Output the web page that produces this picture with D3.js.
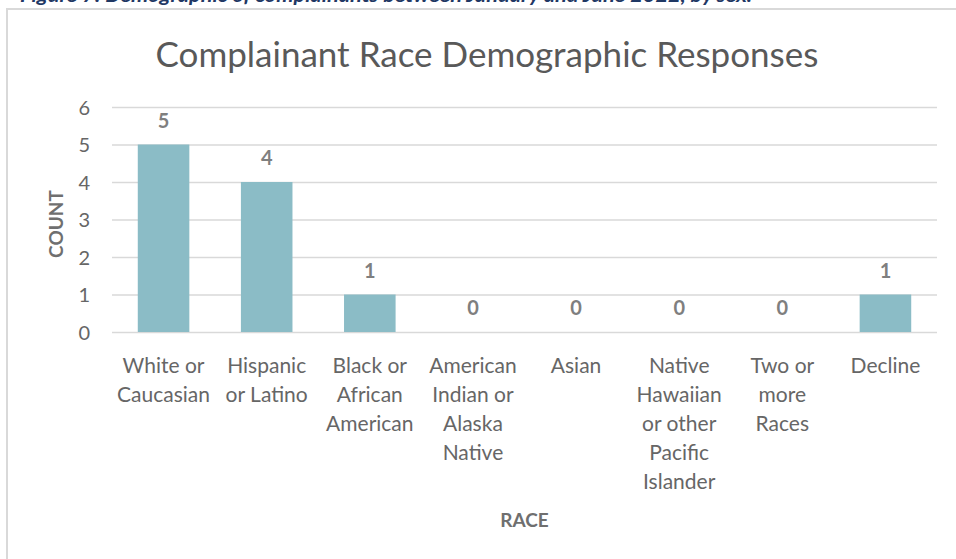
<!DOCTYPE html>
<html>
<head>
<meta charset="utf-8">
<script src="https://cdn.jsdelivr.net/npm/d3@7"></script>
<style>
  body { margin: 0; background: #fff; }
  svg { display: block; font-family: Lato, "Open Sans", sans-serif; }
</style>
</head>
<body>
<div id="chart"></div>
<script>
// data
var categories = ['White or Caucasian', 'Hispanic or Latino', 'Black or African American',
                  'American Indian or Alaska Native', 'Asian',
                  'Native Hawaiian or other Pacific Islander', 'Two or more Races', 'Decline'];
var counts = [5, 4, 1, 0, 0, 0, 0, 1];
var tickLabels = [['White or', 'Caucasian'], ['Hispanic', 'or Latino'], ['Black or', 'African', 'American'],
                  ['American', 'Indian or', 'Alaska', 'Native'], ['Asian'],
                  ['Native', 'Hawaiian', 'or other', 'Pacific', 'Islander'], ['Two or', 'more', 'Races'], ['Decline']];
var yTicks = [0, 1, 2, 3, 4, 5, 6];

var width = 956,
    height = 559;

var svg = d3.select('#chart')
      .append('svg')
      .attr('width', width)
      .attr('height', height);

// caption of the page, cut off at the top
svg.append('text')
    .attr('x', 20)
    .attr('y', 2)
    .attr('textLength', 732)
    .attr('lengthAdjust', 'spacingAndGlyphs')
    .style('font-size', '18px')
    .style('font-style', 'italic')
    .style('font-weight', 'bold')
    .style('fill', '#1f3864')
    .text('Figure 7: Demographic of complainants between January and June 2022, by sex.');

// chart frame (right and bottom edges fall outside the picture)
svg.append('rect')
    .attr('x', 7)
    .attr('y', 9)
    .attr('width', 1000)
    .attr('height', 600)
    .attr('fill', 'none')
    .attr('stroke', '#d9d9d9')
    .attr('stroke-width', 2);

var x = d3.scaleBand()
    .domain(categories)
    .range([112, 937])
    .paddingInner(0.5)
    .paddingOuter(0.25);

var y = d3.scaleLinear()
    .domain([0, 6])
    .range([332, 107]);

// gridlines
svg.append('g')
    .attr('transform', 'translate(112,0)')
    .call(d3.axisLeft(y).tickValues(yTicks).tickSize(-825).tickFormat(''))
    .call(g => g.select('.domain').remove())
    .call(g => g.selectAll('line').attr('stroke', '#d9d9d9').attr('stroke-width', 1.3));

// y tick labels
svg.append('g')
    .attr('transform', 'translate(90,0)')
    .call(d3.axisLeft(y).tickValues(yTicks).tickSize(0).tickPadding(0).tickFormat(d3.format('d')))
    .call(g => g.select('.domain').remove())
    .call(g => g.selectAll('text')
        .attr('dy', '0.36em')
        .style('font-family', 'Lato, sans-serif')
        .style('font-size', '20px')
        .style('fill', '#666'));

// bars
svg.selectAll('rect.bar')
    .data(counts)
    .enter()
    .append('rect')
    .attr('class', 'bar')
    .attr('x', (d, i) => x(categories[i]))
    .attr('y', d => y(d))
    .attr('width', x.bandwidth())
    .attr('height', d => y(0) - y(d))
    .attr('fill', '#8bbcc6');

// data labels
svg.selectAll('text.val')
    .data(counts)
    .enter()
    .append('text')
    .attr('class', 'val')
    .attr('x', (d, i) => x(categories[i]) + x.bandwidth() / 2)
    .attr('y', d => y(d) - 17)
    .attr('text-anchor', 'middle')
    .style('font-size', '20px')
    .style('font-weight', 'bold')
    .style('fill', '#7f7f7f')
    .text(d => d);

// category labels, wrapped like the original
var cat = svg.selectAll('text.cat')
    .data(tickLabels)
    .enter()
    .append('text')
    .attr('class', 'cat')
    .attr('text-anchor', 'middle')
    .attr('x', (d, i) => x(categories[i]) + x.bandwidth() / 2)
    .attr('y', 373)
    .style('font-size', '21px')
    .style('fill', '#666');

cat.selectAll('tspan')
    .data(d => d)
    .enter()
    .append('tspan')
    .attr('x', function() { return d3.select(this.parentNode).attr('x'); })
    .attr('y', (d, i) => 373 + i * 29)
    .text(d => d);

// title
svg.append('text')
    .attr('x', 487)
    .attr('y', 67)
    .attr('text-anchor', 'middle')
    .style('font-size', '35px')
    .style('fill', '#595959')
    .text('Complainant Race Demographic Responses');

// axis titles
svg.append('text')
    .attr('x', 524.5)
    .attr('y', 527)
    .attr('text-anchor', 'middle')
    .style('font-size', '19px')
    .style('font-weight', 'bold')
    .style('fill', '#6f6f6f')
    .text('RACE');

svg.append('text')
    .attr('transform', 'translate(63,224) rotate(-90)')
    .attr('text-anchor', 'middle')
    .style('font-size', '19px')
    .style('font-weight', 'bold')
    .style('fill', '#6f6f6f')
    .text('COUNT');
</script>
</body>
</html>
